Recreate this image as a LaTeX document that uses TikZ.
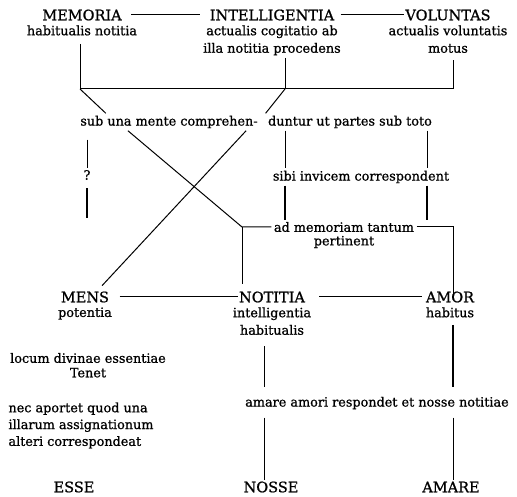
\documentclass[tikz,border=0pt]{standalone}
\usepackage{fontspec}
\setmainfont{DejaVu Serif}[FakeBold=0.9]
\usetikzlibrary{positioning}
\tikzset{
  title/.style={inner sep=1pt, font=\fontsize{14.5}{17}\selectfont},
  gloss/.style={inner sep=2pt, align=center, font=\fontsize{12.8}{17.5}\selectfont},
  note/.style={inner sep=2pt, align=left, font=\fontsize{12.8}{16.8}\selectfont},
  link/.style={line width=1pt},
  heavy/.style={line width=1.8pt}
}

\begin{document}
\begin{tikzpicture}[x=1pt, y=-1pt, every path/.style={link}]
  \useasboundingbox (0,0) rectangle (517,497);

  % upper triad
  \node[title] (mem) at (82,15) {MEMORIA};
  \node[gloss, below=1pt of mem] (memsub) {habitualis notitia};
  \node[title] (intel) at (272,15) {INTELLIGENTIA};
  \node[gloss, below=1pt of intel] (intelsub) {actualis cogitatio ab\\illa notitia procedens};
  \node[title] (vol) at (448,15) {VOLUNTAS};
  \node[gloss, below=1pt of vol] (volsub) {actualis voluntatis\\motus};

  \coordinate (jl) at (80,89);
  \coordinate (jc) at (285,89);
  \coordinate (jr) at (453,89);

  \draw[shorten <=8pt, shorten >=8pt] (mem) -- (intel);
  \draw[shorten <=5pt] (intel) -- (vol);
  \draw[shorten <=6pt] (memsub.south -| jl) -- (jl) -- (jr);
  \draw (intelsub.south -| jc) -- (jc);
  \draw[shorten <=5pt] (volsub.south -| jr) -- (jr);

  % middle texts
  \node[gloss] (subA) at (169,122) {sub una mente comprehen-};
  \node[gloss] (subB) at (350,122) {duntur ut partes sub toto};
  \node[gloss] (sibi) at (361,177) {sibi invicem correspondent};
  \node[gloss] (admem) at (344,227) {ad memoriam tantum};
  \node[gloss, below=-1pt of admem] (pert) {pertinent};
  \node[gloss] (q) at (87,175) {?};

  \draw (jl) -- ([xshift=28pt]subA.north west);
  \draw (jc) -- (subB.north west);

  \coordinate (xa) at (242,227);
  \coordinate (ar) at (453,227);
  \coordinate (cl) at (285,0);
  \coordinate (cr) at (427,0);
  \coordinate (qend) at (87,218);

  % lower triad
  \node[title] (mens) at (85,297) {MENS};
  \node[gloss, below=1pt of mens] (menssub) {potentia};
  \node[title] (noti) at (272,297) {NOTITIA};
  \node[gloss, below=1pt of noti] (notisub) {intelligentia\\habitualis};
  \node[title] (amor) at (450,297) {AMOR};
  \node[gloss, below=1pt of amor] (amorsub) {habitus};

  % the crossing
  \draw ([xshift=50pt]subA.south west) -- (xa) -- (admem.west);
  \draw[shorten >=6pt] (xa) -- (xa |- noti.north);
  \draw[shorten >=6pt] ([xshift=-14pt]subA.south east) -- ([xshift=13pt]mens.north);
  \draw (admem.east) -- (ar) -- ([yshift=-5pt]amor.north -| ar);

  \draw (subB.south -| cl) -- (sibi.north -| cl);
  \draw[heavy] (sibi.south -| cl) -- (admem.north -| cl);
  \draw (subB.south -| cr) -- (sibi.north -| cr);
  \draw[heavy] (sibi.south -| cr) -- (admem.north -| cr);

  \draw[shorten <=9pt] (subA.south -| q) -- (q.north);
  \draw[heavy, shorten <=6pt] (q.south) -- (qend);

  \draw[shorten <=9pt] (mens) -- (noti);
  \draw[shorten <=13pt, shorten >=2pt] (noti) -- (amor);

  % left notes
  \node[gloss] (locum) at (88,358) {locum divinae essentiae};
  \node[gloss, below=0pt of locum] (tenet) {Tenet};
  \node[note, anchor=north west] (nec) at (6,400) {nec aportet quod una\\illarum assignationum\\alteri correspondeat};

  % bottom row
  \node[gloss] (resp) at (377,403) {amare amori respondet et nosse notitiae};
  \node[title] (esse) at (74,487) {ESSE};
  \node[title] (nosse) at (271,487) {NOSSE};
  \node[title] (amare) at (451,487) {AMARE};

  \coordinate (nl) at (264,0);
  \draw[shorten <=9pt, shorten >=7pt] (notisub.south -| nl) -- (resp.north -| nl);
  \draw[shorten <=6pt] (resp.south -| nl) -- (nosse.north -| nl);
  \draw[heavy, shorten <=5pt, shorten >=7pt] (amorsub.south -| ar) -- (resp.north -| ar);
  \draw[shorten <=6pt] (resp.south -| ar) -- (amare.north -| ar);
\end{tikzpicture}
\end{document}
